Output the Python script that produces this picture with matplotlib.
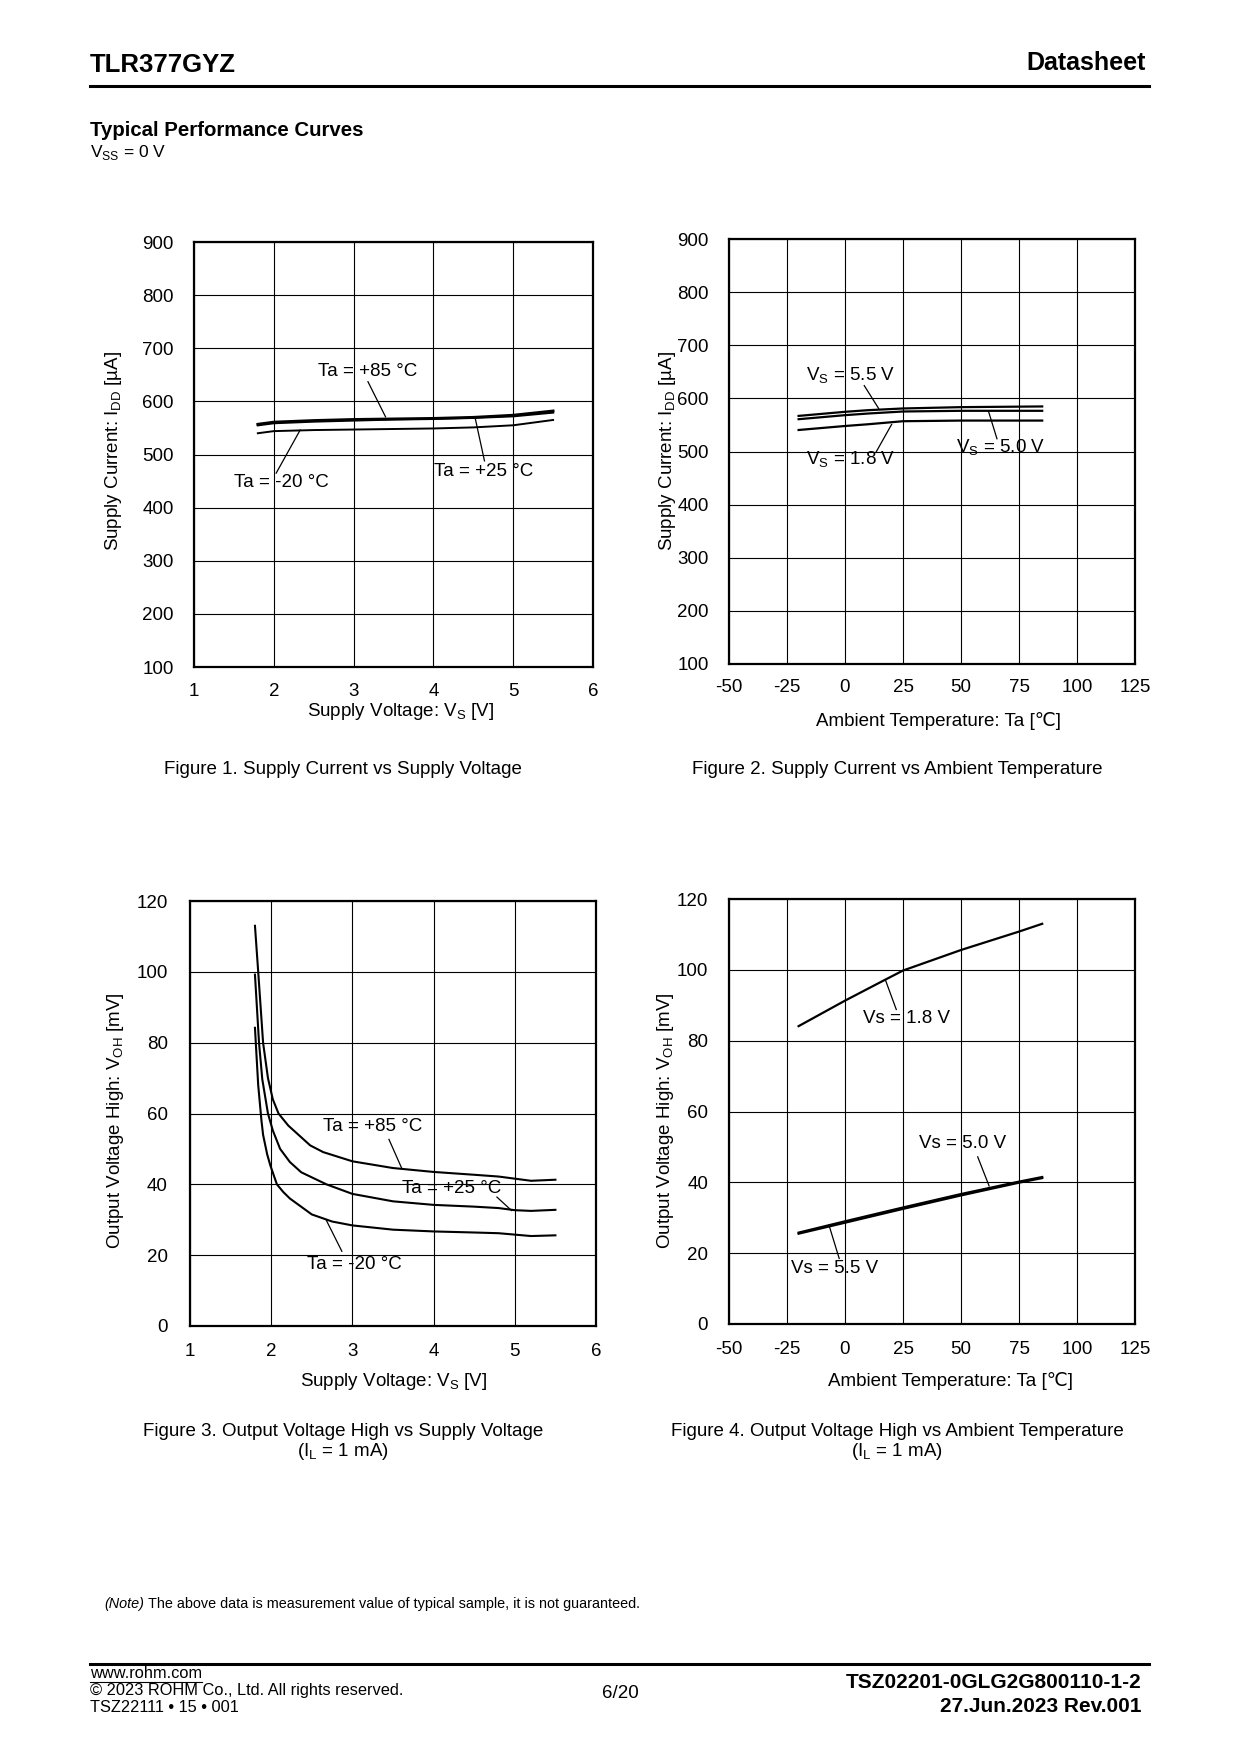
import numpy as np
import matplotlib
matplotlib.use("Agg")
import matplotlib.pyplot as plt
from matplotlib.lines import Line2D

plt.rcParams['font.family'] = ['Liberation Sans', 'DejaVu Sans']
plt.rcParams['mathtext.fontset'] = 'custom'
plt.rcParams['mathtext.rm'] = 'Liberation Sans'
plt.rcParams['axes.unicode_minus'] = False

# Figure 1: supply current vs supply voltage
vs_1 = [1.8, 2.0, 2.5, 3.0, 3.5, 4.0, 4.5, 5.0, 5.5]
idd_85 = [557, 561, 564, 566, 567, 568, 570, 574, 582]
idd_25 = [555, 559, 562, 564, 566, 567, 569, 572, 579]
idd_m20 = [540, 544, 546, 547, 548, 549, 551, 555, 565]

# Figure 2: supply current vs ambient temperature
ta_2 = [-20, 0, 10, 25, 50, 85]
idd_55 = [567, 574.7, 577.8, 581, 583.5, 584.8]
idd_50 = [560.8, 568.4, 571.5, 575.3, 576.6, 576.6]
idd_18 = [540.5, 548, 551.3, 557, 558.2, 558.2]

# Figure 3: output voltage high vs supply voltage
vs_85 = [1.80, 1.84, 1.90, 1.96, 2.02, 2.09, 2.21, 2.48, 2.64, 3.0, 3.5, 4.0, 4.5, 4.8, 5.0, 5.2, 5.5]
voh_85 = [113, 100, 80, 70, 64, 60, 56.6, 51, 49.1, 46.5, 44.6, 43.5, 42.7, 42.2, 41.6, 41.0, 41.3]
vs_25 = [1.80, 1.85, 1.89, 1.96, 2.02, 2.11, 2.23, 2.37, 2.68, 3.0, 3.5, 4.0, 4.5, 4.8, 5.0, 5.2, 5.5]
voh_25 = [99.2, 80, 69.7, 60, 55.2, 50, 46.3, 43.4, 40, 37.3, 35.2, 34.2, 33.7, 33.3, 32.7, 32.5, 32.8]
vs_m20 = [1.80, 1.82, 1.84, 1.86, 1.88, 1.90, 1.95, 1.99, 2.07, 2.15, 2.23, 2.5, 2.75, 3.0, 3.5, 4.0, 4.5, 4.8, 5.0, 5.2, 5.5]
voh_m20 = [84.2, 76, 68, 63, 58, 54, 48.5, 45.3, 40, 37.8, 36, 31.5, 29.5, 28.4, 27.2, 26.7, 26.4, 26.2, 25.8, 25.4, 25.6]

# Figure 4: output voltage high vs ambient temperature
ta_4 = [-20, 0, 17, 25, 50, 75, 85]
voh_18 = [84.1, 91.3, 97.1, 99.8, 105.6, 110.8, 113]
ta_4b = [-20, 0, 25, 50, 75, 85]
voh_50 = [25.8, 29.0, 32.9, 36.7, 40.2, 41.5]
voh_55 = [25.5, 28.6, 32.5, 36.3, 39.9, 41.2]

W, H = 1240, 1754
fig = plt.figure(figsize=(W / 100, H / 100), dpi=100)


def px(x, y):
    return x / W, 1 - y / H


def make_axes(l, t, r, b):
    ax = fig.add_axes([l / W, 1 - b / H, (r - l) / W, (b - t) / H])
    ax.grid(True, color='black', linewidth=0.8)
    ax.set_axisbelow(True)
    for s in ax.spines.values():
        s.set_linewidth(1.6)
    ax.tick_params(length=0, labelsize=13.5)
    return ax


def label(ax, text, xy_text, xy_from, xy_to):
    ax.text(xy_text[0], xy_text[1], text, ha='center', va='center', fontsize=13.5)
    ax.add_line(Line2D([xy_from[0], xy_to[0]], [xy_from[1], xy_to[1]],
                       color='black', linewidth=0.9))


# ---- Figure 1
ax1 = make_axes(194, 242, 593, 667)
ax1.set_xlim(1, 6)
ax1.set_ylim(100, 900)
ax1.set_xticks(range(1, 7))
ax1.set_yticks(range(100, 901, 100))
ax1.tick_params(axis='y', pad=14.5)
ax1.tick_params(axis='x', pad=11.5)
ax1.plot(vs_1, idd_85, color='black', linewidth=2.0)
ax1.plot(vs_1, idd_25, color='black', linewidth=1.6)
ax1.plot(vs_1, idd_m20, color='black', linewidth=1.4)
label(ax1, 'Ta = +85 °C', (3.17, 657), (3.18, 637), (3.40, 571))
label(ax1, 'Ta = -20 °C', (2.10, 447), (2.03, 465), (2.33, 546))
label(ax1, 'Ta = +25 °C', (4.63, 468), (4.64, 488), (4.52, 571))

# ---- Figure 2
ax2 = make_axes(729, 239, 1135, 664)
ax2.set_xlim(-50, 125)
ax2.set_ylim(100, 900)
ax2.set_xticks(range(-50, 126, 25))
ax2.set_yticks(range(100, 901, 100))
ax2.tick_params(axis='y', pad=14.5)
ax2.tick_params(axis='x', pad=11)
ax2.plot(ta_2, idd_55, color='black', linewidth=1.6)
ax2.plot(ta_2, idd_50, color='black', linewidth=1.6)
ax2.plot(ta_2, idd_18, color='black', linewidth=1.6)
label(ax2, r'V$_\mathregular{S}$ = 5.5 V', (2.6, 643), (8.3, 624), (14.5, 581))
label(ax2, r'V$_\mathregular{S}$ = 1.8 V', (2.6, 485), (13.4, 499), (20.1, 551))
label(ax2, r'V$_\mathregular{S}$ = 5.0 V', (67.2, 507), (65.5, 524), (61.9, 575))

# ---- Figure 3
ax3 = make_axes(190, 901, 596, 1326)
ax3.set_xlim(1, 6)
ax3.set_ylim(0, 120)
ax3.set_xticks(range(1, 7))
ax3.set_yticks(range(0, 121, 20))
ax3.tick_params(axis='y', pad=16)
ax3.tick_params(axis='x', pad=12.5)
ax3.plot(vs_85, voh_85, color='black', linewidth=1.5)
ax3.plot(vs_25, voh_25, color='black', linewidth=1.5)
ax3.plot(vs_m20, voh_m20, color='black', linewidth=1.5)
label(ax3, 'Ta = +85 °C', (3.25, 56.2), (3.45, 52.7), (3.61, 44.4))
label(ax3, 'Ta = +25 °C', (4.22, 38.8), (4.78, 36.4), (4.96, 32.6))
label(ax3, 'Ta = -20 °C', (3.03, 17.4), (2.87, 21.1), (2.68, 29.8))

# ---- Figure 4
ax4 = make_axes(729, 899, 1135, 1324)
ax4.set_xlim(-50, 125)
ax4.set_ylim(0, 120)
ax4.set_xticks(range(-50, 126, 25))
ax4.set_yticks(range(0, 121, 20))
ax4.tick_params(axis='y', pad=15)
ax4.tick_params(axis='x', pad=12)
ax4.plot(ta_4, voh_18, color='black', linewidth=1.6)
ax4.plot(ta_4b, voh_50, color='black', linewidth=1.6)
ax4.plot(ta_4b, voh_55, color='black', linewidth=1.6)
label(ax4, 'Vs = 1.8 V', (26.4, 86.4), (22.1, 88.8), (17.5, 97))
label(ax4, 'Vs = 5.0 V', (50.6, 50.9), (57.2, 47.2), (62.1, 39))
label(ax4, 'Vs = 5.5 V', (-4.3, 15.7), (-2.5, 18.5), (-6.9, 27.9))

# ---- axis titles
fs = 13.5
fig.text(*px(113, 451), r'Supply Current: I$_\mathregular{DD}$ [µA]', rotation=90,
         ha='center', va='center', fontsize=fs)
fig.text(*px(668, 451), r'Supply Current: I$_\mathregular{DD}$ [µA]', rotation=90,
         ha='center', va='center', fontsize=fs)
fig.text(*px(116, 1121), r'Output Voltage High: V$_\mathregular{OH}$ [mV]', rotation=90,
         ha='center', va='center', fontsize=fs)
fig.text(*px(665, 1121), r'Output Voltage High: V$_\mathregular{OH}$ [mV]', rotation=90,
         ha='center', va='center', fontsize=fs)
fig.text(*px(401, 712), r'Supply Voltage: V$_\mathregular{S}$ [V]', ha='center', va='center', fontsize=fs)
fig.text(*px(939, 721), 'Ambient Temperature: Ta [℃]', ha='center', va='center', fontsize=fs)
fig.text(*px(394, 1382), r'Supply Voltage: V$_\mathregular{S}$ [V]', ha='center', va='center', fontsize=fs)
fig.text(*px(950, 1381), 'Ambient Temperature: Ta [℃]', ha='center', va='center', fontsize=fs)

# ---- captions
fig.text(*px(343, 770), 'Figure 1. Supply Current vs Supply Voltage', ha='center', va='center', fontsize=fs)
fig.text(*px(897, 770), 'Figure 2. Supply Current vs Ambient Temperature', ha='center', va='center', fontsize=fs)
fig.text(*px(343, 1431), 'Figure 3. Output Voltage High vs Supply Voltage', ha='center', va='center', fontsize=fs)
fig.text(*px(343, 1452), r'(I$_\mathregular{L}$ = 1 mA)', ha='center', va='center', fontsize=fs)
fig.text(*px(897, 1431), 'Figure 4. Output Voltage High vs Ambient Temperature', ha='center', va='center', fontsize=fs)
fig.text(*px(897, 1452), r'(I$_\mathregular{L}$ = 1 mA)', ha='center', va='center', fontsize=fs)

# ---- page header
fig.text(*px(90, 65), 'TLR377GYZ', ha='left', va='center', fontsize=18.5, fontweight='bold')
fig.text(*px(1146, 63), 'Datasheet', ha='right', va='center', fontsize=18, fontweight='bold')
fig.add_artist(Line2D([90 / W, 1149 / W], [1 - 86 / H, 1 - 86 / H], color='black', linewidth=2.2))
fig.text(*px(90, 130), 'Typical Performance Curves', ha='left', va='center', fontsize=14.7, fontweight='bold')
fig.text(*px(90, 152), r'V$_\mathregular{SS}$ = 0 V', ha='left', va='center', fontsize=12.5)

# ---- note
renderer = fig.canvas.get_renderer()
note_a = fig.text(*px(104, 1604), '(Note)', ha='left', va='center', fontsize=10.4, style='italic')
wa = note_a.get_window_extent(renderer).width
fig.text((104 + wa + 4) / W, 1 - 1604 / H,
         'The above data is measurement value of typical sample, it is not guaranteed.',
         ha='left', va='center', fontsize=10.4)

# ---- footer
fig.add_artist(Line2D([90 / W, 1149 / W], [1 - 1664 / H, 1 - 1664 / H], color='black', linewidth=2.2))
www = fig.text(*px(90, 1674), 'www.rohm.com', ha='left', va='center', fontsize=11.8)
ww = www.get_window_extent(renderer).width
fig.add_artist(Line2D([90 / W, (90 + ww) / W], [1 - 1682 / H, 1 - 1682 / H], color='black', linewidth=0.8))
fig.text(*px(90, 1690), '© 2023 ROHM Co., Ltd. All rights reserved.', ha='left', va='center', fontsize=11.8)
fig.text(*px(90, 1707), 'TSZ22111 • 15 • 001', ha='left', va='center', fontsize=11.8)
fig.text(*px(620, 1694), '6/20', ha='center', va='center', fontsize=13.5)
fig.text(*px(1141, 1683), 'TSZ02201-0GLG2G800110-1-2', ha='right', va='center', fontsize=15, fontweight='bold')
fig.text(*px(1141, 1707), '27.Jun.2023 Rev.001', ha='right', va='center', fontsize=15, fontweight='bold')

fig.savefig('out.png', dpi=100)
